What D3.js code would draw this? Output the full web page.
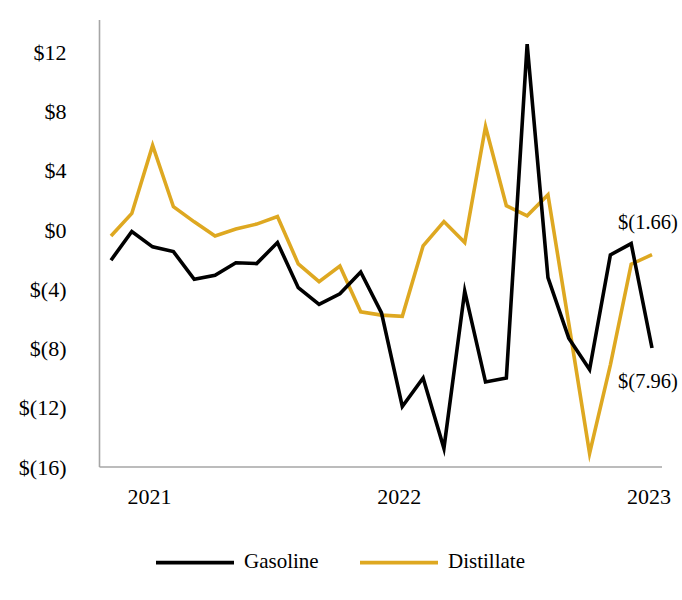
<!DOCTYPE html>
<html>
<head>
<meta charset="utf-8">
<script src="https://cdn.jsdelivr.net/npm/d3@7"></script>
<style>
  html, body { margin: 0; padding: 0; background: #fff; }
</style>
</head>
<body>
<svg id="chart" width="682" height="600"></svg>
<script>
// Monthly data, Nov 2020 .. Jan 2023
const months = ["2020-11","2020-12","2021-01","2021-02","2021-03","2021-04","2021-05","2021-06","2021-07","2021-08","2021-09","2021-10","2021-11","2021-12","2022-01","2022-02","2022-03","2022-04","2022-05","2022-06","2022-07","2022-08","2022-09","2022-10","2022-11","2022-12","2023-01"];
const gasoline = [-2.03,-0.09,-1.13,-1.45,-3.32,-3.05,-2.20,-2.26,-0.84,-3.89,-5.02,-4.30,-2.83,-5.59,-11.91,-9.99,-14.74,-4.12,-10.26,-9.99,12.56,-3.21,-7.30,-9.42,-1.67,-0.91,-7.96];
const distillate = [-0.39,1.13,5.72,1.58,0.56,-0.39,0.07,0.41,0.92,-2.28,-3.48,-2.42,-5.52,-5.74,-5.82,-1.06,0.58,-0.84,7.00,1.65,0.97,2.39,-6.30,-15.08,-9.10,-2.30,-1.66];
const yTicks = [-16,-12,-8,-4,0,4,8,12];
const yearLabels = ["2021","2022","2023"];
const seriesNames = ["Gasoline","Distillate"];
const seriesColors = ["#000000","#DEA821"];

const FONT = '"Liberation Serif"';
const svg = d3.select("#chart");
const x = d3.scaleLinear().domain([0, months.length - 1]).range([111, 652]);
const y = d3.scaleLinear().domain([-16, 12]).range([467, 52.5]);

const fmt = v => v < 0 ? "$(" + Math.abs(v) + ")" : "$" + v;
const fmt2 = v => v < 0 ? "$(" + Math.abs(v).toFixed(2) + ")" : "$" + v.toFixed(2);

// Y axis
const yAxis = d3.axisLeft(y).tickValues(yTicks).tickFormat(fmt).tickSize(0).tickPadding(33);
const gy = svg.append("g").attr("transform", "translate(99.5,0)").call(yAxis);
gy.select(".domain").remove();
gy.attr("font-family", null).attr("font-size", null);
gy.selectAll("text").attr("fill", "#000")
  .style("font-family", FONT).style("font-size", "22px");
svg.append("line").attr("x1", 99.5).attr("x2", 99.5).attr("y1", 20).attr("y2", 467)
  .attr("stroke", "#a6a6a6").attr("stroke-width", 1.6);

// X axis
const yearIdx = yearLabels.map(yl => months.indexOf(yl + "-01"));
const xAxis = d3.axisBottom(x).tickValues(yearIdx).tickFormat(i => months[i].slice(0,4)).tickSize(0).tickPadding(21);
const gx = svg.append("g").attr("transform", "translate(0,467)").call(xAxis);
gx.select(".domain").remove();
gx.attr("font-family", null).attr("font-size", null);
gx.selectAll("text").attr("fill", "#000").attr("dx", -3.5)
  .style("font-family", FONT).style("font-size", "22px");
svg.append("line").attr("x1", 99.5).attr("x2", 662).attr("y1", 467).attr("y2", 467)
  .attr("stroke", "#a6a6a6").attr("stroke-width", 1.6);

// Lines
const line = d3.line().x((d, i) => x(i)).y(d => y(d));
[[distillate, seriesColors[1]], [gasoline, seriesColors[0]]].forEach(([s, color]) => {
  svg.append("path").datum(s).attr("d", line)
    .attr("fill", "none").attr("stroke", color).attr("stroke-width", 3.6)
    .attr("stroke-linejoin", "miter").attr("stroke-miterlimit", 10);
});

// End labels
const last = months.length - 1;
svg.append("text").attr("x", x(last) - 4).attr("y", y(distillate[last]) - 25.5)
  .attr("text-anchor", "middle").style("font-family", FONT).style("font-size", "20.5px")
  .text(fmt2(distillate[last]));
svg.append("text").attr("x", x(last) - 4).attr("y", y(gasoline[last]) + 40.5)
  .attr("text-anchor", "middle").style("font-family", FONT).style("font-size", "20.5px")
  .text(fmt2(gasoline[last]));

// Legend
const legendX = [156, 360];
seriesNames.forEach((name, i) => {
  const g = svg.append("g").attr("transform", `translate(${legendX[i]},562.7)`);
  g.append("line").attr("x1", 0).attr("x2", 78).attr("y1", 0).attr("y2", 0)
    .attr("stroke", seriesColors[i]).attr("stroke-width", 3.8);
  g.append("text").attr("x", 88).attr("y", 5).style("font-family", FONT).style("font-size", "21px").text(name);
});
</script>
</body>
</html>
